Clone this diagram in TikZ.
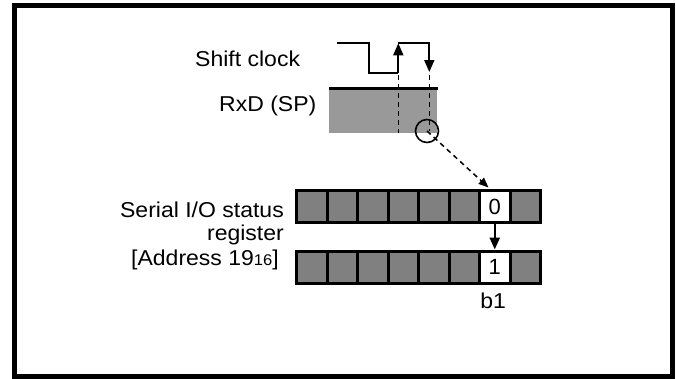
\documentclass[tikz,border=0pt]{standalone}
\usepackage{fontspec}
\usepackage{graphicx}
\setmainfont{Liberation Sans}
\usetikzlibrary{arrows.meta}
\newcommand\lab[1]{\scalebox{1.07}[1]{#1}}
\begin{document}
\begin{tikzpicture}[x=1pt,y=-1pt,
  txt/.style={inner sep=0pt,font=\fontsize{21.5}{23}\selectfont},
  cell/.style={draw=black,line width=3pt,fill=cellgray,minimum width=30.5pt,minimum height=32pt,inner sep=0pt,anchor=north west,font=\fontsize{22}{23}\selectfont},
  wcell/.style={cell,fill=white},
  clk/.style={line width=1.7pt},
  dsh/.style={line width=1.5pt,dash pattern=on 5pt off 4pt},
  bigtip/.style={-{Triangle[length=12pt,width=10pt]}}
]
\definecolor{cellgray}{RGB}{128,128,128}
\definecolor{rxgray}{RGB}{153,153,153}
\useasboundingbox (0,0) rectangle (676,378);
\fill[white] (0,0) rectangle (676,378);
\draw[line width=5pt] (14.5,5) rectangle (672,376);

% labels
\node[txt,anchor=base west] (lclk) at (195,66.7) {\lab{Shift clock}};
\node[txt,anchor=base west] (lrx) at (219,111.5) {\lab{RxD (SP)}};
\node[txt,anchor=base east] (l1) at (284,217) {\lab{Serial I/O status}};
\node[txt,anchor=base east] (l2) at (284,240) {\lab{register}};
\node[txt,anchor=base east] (l3) at (279,265) {\lab{[Address 19{\fontsize{15.5}{16}\selectfont 16}]}};

% RxD band
\fill[rxgray] (329,88) rectangle (436.5,133.3);
\draw[line width=3pt] (329,88) -- (437.5,88);

% clock
\coordinate (c0) at (337,43.3);
\coordinate (c1) at (369,43.3);
\coordinate (c2) at (369,73.3);
\coordinate (r0) at (398.3,73.3);
\coordinate (r1) at (398.3,43.3);
\coordinate (f0) at (429.3,43.3);
\coordinate (f1) at (429.3,72);
\draw[clk] (c0) -- (c1) -- (c2) -- (r0);
\draw[clk,bigtip] (r0) -- (r1);
\draw[clk,bigtip] (r1) -- (f0) -- (f1);

% dashed
\draw[dsh] (398.3,75) -- (398.3,133);
\draw[dsh] (429.3,75) -- (429.3,131);
\node[draw,circle,line width=1.6pt,minimum size=23pt,inner sep=0pt] (circ) at (427,131) {};

% registers
\foreach \i in {0,...,7}{
  \ifnum\i=6\relax
  \else
    \node[cell] (a\i) at (295+\i*30.5,189) {};
    \node[cell] (b\i) at (295+\i*30.5,249.5) {};
  \fi
}
\node[wcell] (a6) at (478,189) {0};
\node[wcell] (b6) at (478,249.5) {1};
\node[txt,anchor=base] (b1l) at (493.2,308) {\lab{b1}};

\draw[dsh,-{Triangle[length=10pt,width=8pt]}] (circ.center) -- (488.5,187.5);
\draw[line width=2.4pt,-{Triangle[length=12pt,width=10pt]}] (a6.south) -- (b6.north);
\end{tikzpicture}
\end{document}
